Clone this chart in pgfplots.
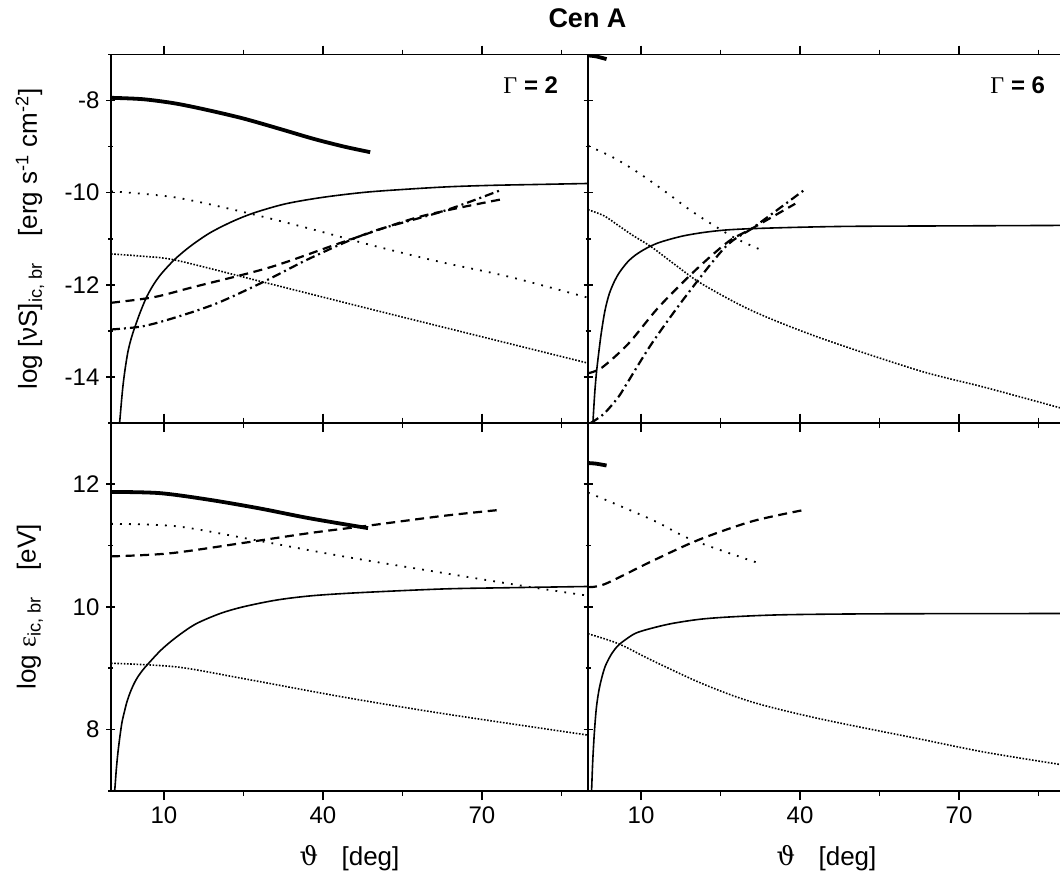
\documentclass[border=0pt]{standalone}
\usepackage{fontspec}
\setmainfont{Liberation Sans}
\newfontfamily\grserif{Liberation Serif}
\newfontfamily\thetafont{DejaVu Serif}
\usepackage{pgfplots}
\pgfplotsset{compat=1.18}

\pgfplotsset{
  panel/.style={
    scale only axis, width=238.5pt, height=184.25pt,
    anchor=south west, xmin=0, xmax=90,
    xtick={10,40,70}, minor xtick={25,55,85},
    xtick pos=both, xtick align=outside,
    ytick pos=left, ytick align=center,
    major tick length=4.5pt, minor tick length=2.5pt,
    axis line style={line width=0.9pt},
    every tick/.style={black, line width=0.8pt},
    tick label style={font=\fontsize{12}{14}\selectfont},
    /pgf/number format/assume math mode=true,
    label style={font=\fontsize{13}{15}\selectfont},
    ylabel style={at={(axis description cs:-0.17,0.5)}, anchor=center},
    xlabel style={at={(axis description cs:0.5,-0.182)}, anchor=center},
    clip=true,
  },
  top/.style={panel, ymin=-15, ymax=-7,
    ytick={-14,-12,-10,-8}, minor ytick={-15,-13,-11,-9,-7},
    xticklabels={}},
  bot/.style={panel, ymin=7, ymax=13,
    ytick={8,10,12}, minor ytick={7,9,11,13},
    xticklabel pos=lower,
    xlabel={{\thetafont ϑ}\hspace{0.9em}[deg]}},
  thickc/.style={black, line width=1.9pt, smooth},
  thinc/.style={black, line width=0.8pt, smooth},
  sdot/.style={black, line width=0.9pt, dash pattern=on 0.9pt off 3.6pt, smooth},
  ddot/.style={black, line width=0.8pt, dash pattern=on 0.8pt off 0.8pt, smooth},
  dsh/.style={black, line width=1.1pt, dash pattern=on 4.5pt off 2.8pt, smooth},
  dshdot/.style={black, line width=1.1pt, dash pattern=on 4.5pt off 2pt on 1pt off 2pt, smooth},
}

\begin{document}
\begin{tikzpicture}

% top left, Gamma = 2
\begin{axis}[top, at={(55.5pt,228.5pt)},
  ylabel={log [νS]\textsubscript{ic, br}\hspace{1em}[erg s\textsuperscript{-1} cm\textsuperscript{-2}]}]
\addplot[thickc] coordinates {(0,-7.94) (6,-7.97) (12,-8.06) (18,-8.2) (25,-8.39) (32,-8.62) (38.2,-8.83) (44,-9.0) (48.9,-9.12)};
\addplot[thinc] coordinates {(1.45,-15.2) (1.7,-14.9) (2.0,-14.5) (2.3,-14.15) (2.7,-13.8) (3.2,-13.45) (3.8,-13.17) (4.5,-12.92) (5.5,-12.6) (6.7,-12.27) (8,-12.0) (9.5,-11.76) (12,-11.45) (15,-11.16) (18.7,-10.87) (23,-10.62) (27.2,-10.43) (33,-10.24) (40,-10.1) (48,-9.99) (56.4,-9.92) (64,-9.87) (72,-9.84) (81,-9.82) (90,-9.80)};
\addplot[sdot] coordinates {(0,-9.97) (12,-10.1) (25,-10.42) (37.5,-10.78) (49.5,-11.15) (62,-11.5) (75.3,-11.83) (90,-12.28)};
\addplot[ddot] coordinates {(0,-11.33) (6,-11.38) (12.4,-11.47) (28.7,-11.94) (50.1,-12.56) (69,-13.1) (90,-13.7)};
\addplot[dsh] coordinates {(0,-12.39) (8,-12.27) (15.5,-12.05) (30,-11.62) (43.8,-11.07) (58.3,-10.52) (73.4,-10.15)};
\addplot[dshdot] coordinates {(0,-12.97) (6,-12.9) (12.4,-12.7) (20,-12.4) (28.7,-11.94) (38,-11.4) (48.9,-10.86) (62.7,-10.4) (73.4,-9.95)};
\node[anchor=east, font=\bfseries\fontsize{12}{14}\selectfont] at (rel axis cs:0.952,0.916) {{\grserif\mdseries Γ} = 2};
\end{axis}

% top right, Gamma = 6
\begin{axis}[top, at={(294pt,228.5pt)}, yticklabels={}]
\addplot[thickc] coordinates {(0,-7.02) (1.5,-7.04) (3.5,-7.1)};
\addplot[thinc] coordinates {(0.85,-15.2) (1.0,-14.85) (1.3,-14.3) (1.6,-13.9) (2.0,-13.5) (2.5,-13.05) (3.2,-12.56) (4.0,-12.2) (5.0,-11.92) (6.0,-11.72) (7.5,-11.5) (9,-11.35) (10.8,-11.22) (13,-11.1) (15.5,-11.01) (18.3,-10.93) (22,-10.86) (26,-10.81) (31,-10.78) (40,-10.75) (50,-10.73) (70,-10.72) (90,-10.71)};
\addplot[sdot] coordinates {(0,-8.98) (5,-9.25) (9.8,-9.59) (14.5,-9.97) (19.3,-10.38) (24,-10.73) (28,-11.0) (32.2,-11.22)};
\addplot[ddot] coordinates {(0,-10.37) (3,-10.5) (5.7,-10.71) (8.5,-10.93) (12,-11.18) (16.5,-11.57) (21.5,-11.98) (30.9,-12.56) (43.5,-13.14) (62.4,-13.86) (75,-14.23) (90,-14.7)};
\addplot[dsh] coordinates {(0,-13.92) (2.6,-13.8) (7.6,-13.28) (13.3,-12.49) (20.2,-11.69) (26.5,-11.06) (30.9,-10.78) (39.1,-10.24)};
\addplot[dshdot] coordinates {(0.5,-15.0) (3,-14.8) (5.7,-14.44) (7.3,-14.15) (12,-13.28) (18.3,-12.27) (25.9,-11.18) (30.9,-10.78) (34.7,-10.46) (40.7,-9.95)};
\node[anchor=east, font=\bfseries\fontsize{12}{14}\selectfont] at (rel axis cs:0.973,0.916) {{\grserif\mdseries Γ} = 6};
\end{axis}

% bottom left
\begin{axis}[bot, at={(55.5pt,44.5pt)},
  ylabel={log {\grserif ε}\textsubscript{ic, br}\hspace{1em}[eV]}]
\addplot[thickc] coordinates {(0,11.87) (9.2,11.85) (18.7,11.74) (28.1,11.6) (37.5,11.44) (48.5,11.28)};
\addplot[sdot] coordinates {(0,11.35) (12.4,11.31) (26.9,11.09) (43.8,10.82) (62.7,10.55) (78.4,10.33) (90,10.18)};
\addplot[dsh] coordinates {(0,10.82) (11.1,10.87) (25,11.04) (37.5,11.2) (48.5,11.32) (62.7,11.48) (73.7,11.58)};
\addplot[thinc] coordinates {(0.55,6.9) (0.75,7.06) (1.0,7.35) (1.3,7.62) (1.7,7.9) (2.1,8.13) (2.64,8.33) (3.0,8.45) (3.6,8.6) (4.3,8.74) (5,8.85) (6,8.97) (7,9.07) (9.5,9.3) (12.4,9.51) (16,9.72) (20.6,9.89) (25,10.0) (31.3,10.11) (38,10.18) (47,10.23) (62.7,10.29) (75,10.31) (90,10.33)};
\addplot[ddot] coordinates {(0,9.08) (12.4,9.02) (25,8.83) (43.8,8.53) (62.7,8.26) (90,7.91)};
\end{axis}

% bottom right
\begin{axis}[bot, at={(294pt,44.5pt)}, yticklabels={}]
\addplot[thickc] coordinates {(0,12.34) (1.5,12.33) (3.5,12.3)};
\addplot[sdot] coordinates {(0,11.86) (12,11.42) (19.6,11.09) (32.2,10.71)};
\addplot[dsh] coordinates {(0,10.32) (3.2,10.37) (12,10.74) (20.9,11.09) (30.9,11.39) (40.4,11.57)};
\addplot[thinc] coordinates {(0.62,6.9) (0.7,7.06) (0.9,7.5) (1.2,7.95) (1.6,8.37) (2.2,8.7) (3.2,9.02) (4.5,9.24) (5.7,9.37) (7,9.46) (9,9.57) (12,9.65) (16,9.73) (21.5,9.8) (28,9.84) (37.2,9.87) (55,9.885) (90,9.89)};
\addplot[ddot] coordinates {(0,9.56) (5.7,9.40) (12,9.13) (21.5,8.75) (30.9,8.45) (43.5,8.18) (62.4,7.85) (75,7.63) (90,7.42)};
\end{axis}

\node[font=\bfseries\fontsize{13.5}{16}\selectfont] at (293.75pt,431pt) {Cen A};

\pgfresetboundingbox
\path[use as bounding box] (0,0) rectangle (530pt,440pt);
\end{tikzpicture}
\end{document}
